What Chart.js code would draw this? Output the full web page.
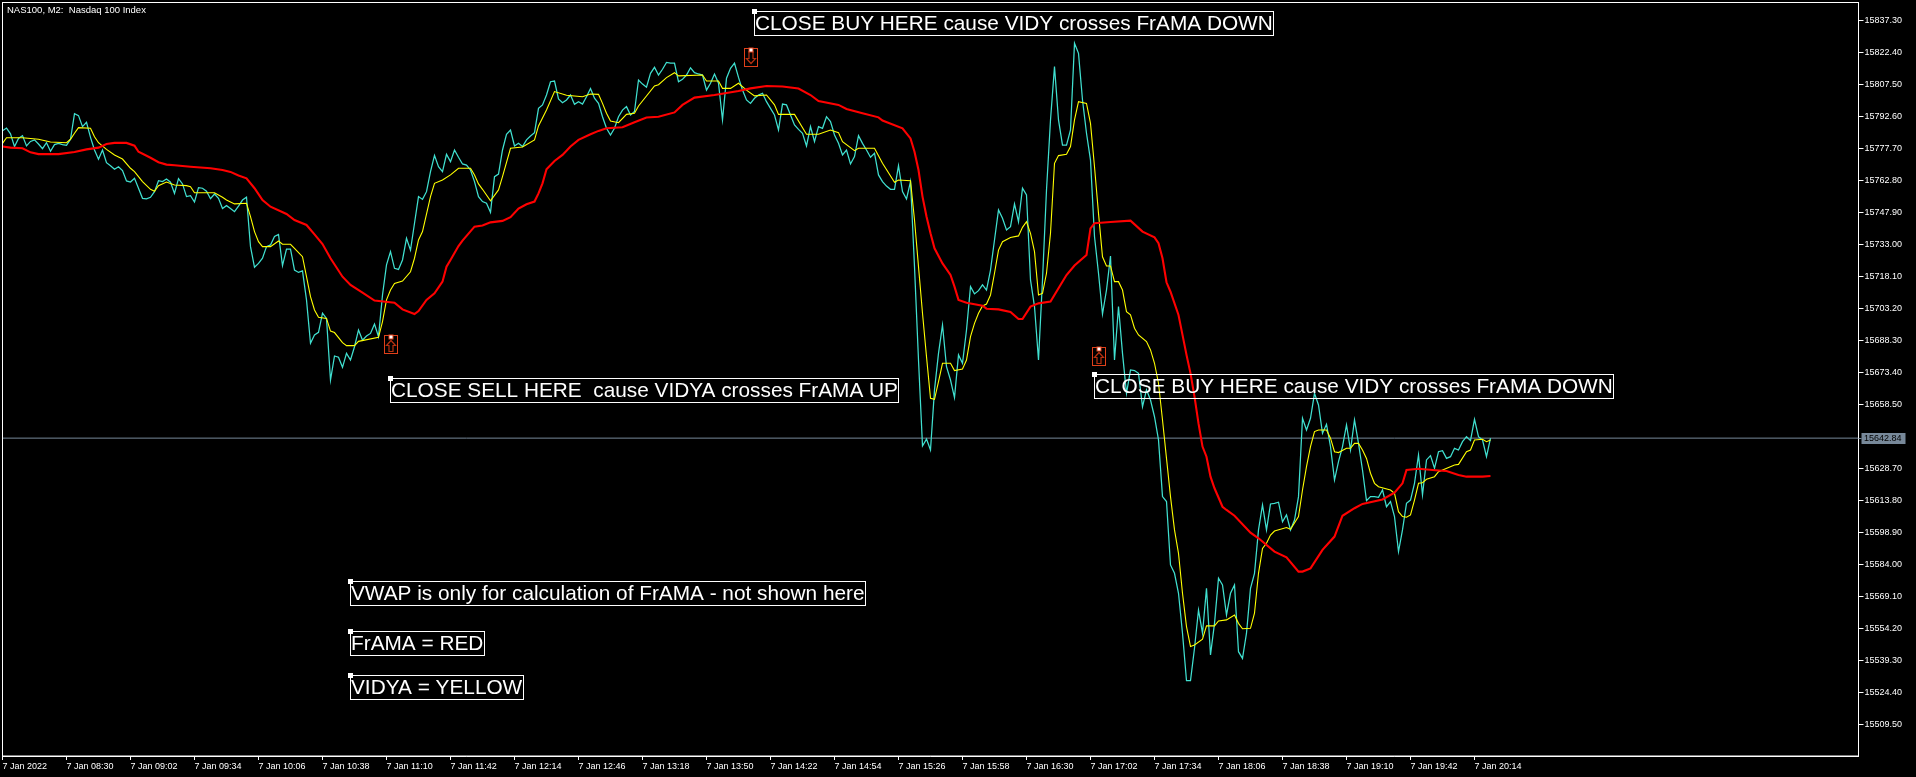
<!DOCTYPE html>
<html><head><meta charset="utf-8">
<style>html,body{margin:0;padding:0;background:#000;overflow:hidden}canvas{display:block}</style>
<script src="https://cdn.jsdelivr.net/npm/chart.js@4"></script>
</head><body><canvas id="c" width="1916" height="777"></canvas>
<script>
const chartTitle = 'NAS100, M2:  Nasdaq 100 Index';
const timeLabels = ['7 Jan 2022','7 Jan 08:30','7 Jan 09:02','7 Jan 09:34','7 Jan 10:06','7 Jan 10:38','7 Jan 11:10','7 Jan 11:42','7 Jan 12:14','7 Jan 12:46','7 Jan 13:18','7 Jan 13:50','7 Jan 14:22','7 Jan 14:54','7 Jan 15:26','7 Jan 15:58','7 Jan 16:30','7 Jan 17:02','7 Jan 17:34','7 Jan 18:06','7 Jan 18:38','7 Jan 19:10','7 Jan 19:42','7 Jan 20:14'];
const timeTickBars = [0,16,32,48,64,80,96,112,128,144,160,176,192,208,224,240,256,272,288,304,320,336,352,368];
const priceTicks = [15837.30,15822.40,15807.50,15792.60,15777.70,15762.80,15747.90,15733.00,15718.10,15703.20,15688.30,15673.40,15658.50,15628.70,15613.80,15598.90,15584.00,15569.10,15554.20,15539.30,15524.40,15509.50];
const lastPrice = 15642.84;

const closeValues = [
15786.0,15787.2,15784.5,15778.6,15782.4,15783.7,15778.9,15781.0,15781.7,15779.8,15777.6,15780.4,15776.4,15779.5,15780.1,15779.5,15779.2,15782.0,15793.9,15793.0,
15787.9,15789.9,15782.9,15777.0,15772.7,15777.0,15771.1,15769.7,15768.0,15769.2,15767.4,15762.6,15762.1,15763.8,15759.2,15754.5,15754.3,15755.0,15757.6,15762.7,
15762.3,15763.5,15762.0,15756.8,15763.7,15761.2,15755.3,15755.7,15752.8,15759.5,15759.2,15757.8,15754.3,15756.5,15754.5,15749.8,15751.1,15749.8,15748.3,15750.9,
15753.7,15755.0,15732.0,15722.4,15724.2,15726.6,15732.0,15732.8,15736.7,15737.7,15723.2,15730.8,15730.8,15721.1,15720.0,15720.7,15707.2,15687.0,15690.9,15692.1,
15701.0,15698.6,15669.9,15681.1,15680.5,15675.8,15682.3,15679.2,15685.4,15693.2,15688.5,15690.4,15691.6,15696.0,15690.1,15709.5,15723.5,15729.7,15721.9,15721.4,
15725.8,15735.9,15730.4,15742.9,15755.3,15754.0,15757.6,15766.9,15774.5,15769.2,15766.9,15775.0,15771.6,15777.0,15773.6,15770.5,15770.0,15767.7,15762.3,15755.3,
15753.0,15752.2,15748.0,15764.6,15765.8,15777.0,15784.3,15786.3,15778.9,15780.1,15778.6,15781.7,15783.5,15785.1,15796.4,15798.0,15802.6,15808.8,15809.1,15800.8,
15799.0,15800.3,15802.6,15798.3,15799.5,15798.4,15801.8,15805.6,15801.1,15798.7,15792.5,15787.1,15784.0,15787.1,15792.5,15795.6,15797.2,15793.3,15794.9,15809.6,
15807.7,15806.2,15812.7,15815.5,15811.9,15814.6,15817.8,15817.4,15817.4,15808.8,15809.9,15811.9,15815.3,15813.0,15812.4,15811.9,15804.9,15808.1,15812.4,15808.1,
15791.0,15810.4,15815.0,15817.4,15810.8,15804.9,15800.3,15798.7,15801.1,15802.6,15803.4,15799.5,15796.4,15793.3,15786.3,15798.4,15798.0,15793.3,15788.7,15786.6,
15784.8,15778.9,15787.9,15780.9,15787.9,15787.1,15792.5,15790.2,15784.0,15780.1,15774.7,15777.0,15770.5,15773.9,15783.7,15780.1,15777.0,15773.6,15775.5,15765.4,
15762.3,15760.2,15758.7,15758.7,15769.7,15757.6,15754.2,15762.3,15722.7,15679.2,15639.2,15642.4,15637.3,15665.3,15682.3,15695.5,15676.1,15669.9,15661.7,15681.6,
15677.7,15693.2,15713.4,15710.0,15711.5,15714.2,15711.8,15721.1,15735.1,15749.1,15745.2,15739.8,15741.3,15751.9,15743.6,15759.2,15756.1,15716.5,15704.1,15679.2,
15716.5,15758.4,15791.0,15815.8,15791.0,15779.3,15779.3,15786.3,15826.7,15822.0,15800.3,15784.8,15772.3,15736.7,15719.6,15700.6,15711.8,15727.6,15679.2,15704.1,
15682.3,15663.7,15674.6,15674.3,15673.0,15657.5,15665.3,15660.6,15652.8,15642.0,15615.6,15613.3,15583.8,15579.9,15570.6,15552.0,15529.9,15529.9,15545.0,15562.8,
15552.0,15572.9,15541.9,15556.6,15577.6,15574.5,15560.5,15570.6,15574.5,15543.4,15540.3,15552.0,15572.9,15579.9,15600.1,15611.7,15600.1,15612.2,15612.5,15613.0,
15603.9,15607.1,15600.1,15604.7,15615.6,15652.1,15646.6,15652.1,15663.7,15658.3,15645.1,15649.3,15638.9,15623.3,15631.9,15638.9,15649.0,15637.3,15651.3,15640.4,
15628.0,15613.7,15615.6,15615.6,15615.3,15618.7,15610.9,15613.3,15606.3,15590.0,15600.1,15612.5,15614.0,15621.8,15635.0,15616.4,15632.7,15634.7,15628.8,15636.5,
15637.0,15633.4,15634.2,15638.1,15637.3,15641.2,15643.5,15641.7,15651.6,15643.5,15642.0,15634.2,15642.8];

const vidyaBars = [0,1,5,9,12,16,17,18,19,22,23,24,26,28,30,32,33,35,37,38,39,41,43,46,47,48,53,55,56,58,61,62,63,64,65,67,69,70,72,73,75,76,77,78,79,81,82,83,85,86,88,89,94,95,96,97,98,100,102,103,104,105,107,108,110,112,114,117,118,119,
120,122,124,125,127,130,133,134,136,138,141,145,147,149,150,151,152,154,156,158,159,163,164,166,168,169,175,176,179,180,182,184,186,188,191,193,194,198,201,204,207,209,210,213,214,218,220,223,224,227,
228,229,230,231,232,233,234,235,237,238,240,241,242,243,244,245,246,247,248,249,250,252,254,255,256,257,258,259,260,261,262,263,264,266,267,268,269,271,272,273,274,275,276,277,278,279,280,281,282,283,284,286,287,288,289,290,
291,292,293,294,295,296,297,298,300,301,303,304,306,308,309,310,312,313,314,315,316,317,318,321,322,324,325,326,327,328,329,331,332,333,334,336,337,338,339,340,341,342,343,344,347,348,349,350,351,352,353,354,355,356,358,359,363,364,366,367,368,370,371,372];
const vidyaValues = [15780.1,15782.7,15782.7,15782.0,15780.7,15780.4,15782.0,15784.8,15787.4,15787.1,15783.2,15780.4,15777.3,15774.7,15772.8,15768.5,15766.9,15762.3,15758.7,15757.8,15760.4,15762.1,15760.7,15760.4,15759.9,15757.1,15757.1,15755.0,15753.7,15751.9,15752.2,15746.0,15739.0,15734.3,15732.0,15732.0,15734.6,15733.1,15733.1,15731.2,15727.3,15718.0,15708.7,15702.5,15699.1,15698.6,15692.7,15692.0,15687.3,15685.9,15685.9,15687.9,15689.8,15697.1,15707.2,15711.8,15714.9,15716.0,15720.3,15726.6,15735.1,15739.0,15755.3,15761.5,15763.0,15765.4,15768.5,15768.5,15765.4,15761.2,
15758.7,15753.3,15758.4,15764.6,15777.8,15778.4,15781.7,15788.2,15795.6,15804.2,15802.5,15801.8,15803.1,15802.9,15798.7,15794.1,15790.5,15789.7,15793.6,15794.1,15797.5,15806.8,15807.4,15810.7,15813.0,15811.5,15811.9,15809.1,15809.1,15805.7,15805.7,15808.1,15804.9,15802.2,15802.6,15798.0,15793.6,15793.6,15784.3,15784.3,15786.3,15785.1,15780.9,15776.7,15777.8,15777.8,15770.8,15762.0,15763.0,15762.7,
15744.4,15722.7,15701.0,15680.8,15661.4,15660.9,15669.1,15677.7,15677.7,15674.3,15675.0,15679.2,15690.1,15696.3,15701.0,15704.4,15705.3,15709.5,15719.6,15730.4,15734.3,15736.3,15737.0,15741.0,15743.6,15738.2,15729.7,15709.5,15710.3,15719.6,15738.2,15770.8,15774.4,15775.0,15778.6,15791.0,15799.5,15798.7,15789.4,15769.2,15747.5,15727.3,15723.0,15723.0,15715.7,15715.7,15711.8,15701.7,15700.2,15694.0,15690.9,15687.8,15683.9,15677.7,15668.4,15651.3,
15633.4,15615.6,15600.1,15589.2,15570.6,15555.1,15545.8,15546.5,15549.2,15555.4,15555.4,15557.7,15558.2,15560.5,15556.6,15554.1,15554.3,15561.3,15579.9,15591.5,15593.9,15597.7,15599.6,15601.2,15600.4,15606.3,15618.7,15629.6,15638.9,15645.9,15646.6,15646.6,15642.8,15636.5,15636.1,15638.1,15638.1,15640.4,15640.4,15637.3,15633.4,15626.5,15621.8,15620.2,15618.7,15617.1,15608.6,15606.3,15606.0,15607.1,15614.0,15621.8,15622.1,15623.7,15624.9,15627.2,15630.3,15630.6,15636.5,15637.3,15642.0,15642.3,15641.2,15642.0];

const framaBars = [0,2,5,7,9,14,18,21,24,26,28,31,33,34,37,39,41,43,47,52,55,57,59,61,63,65,67,71,73,76,78,80,82,85,87,90,93,98,100,103,104,106,108,110,111,112,114,115,118,
120,122,125,127,129,131,133,134,135,136,138,140,142,144,147,149,151,155,158,161,164,168,170,173,178,184,187,191,195,199,202,204,209,211,215,219,220,225,227,228,229,230,231,232,233,235,237,238,
239,241,245,246,249,252,254,255,257,259,262,264,266,268,271,272,273,277,282,285,288,289,290,291,292,294,295,296,297,298,299,
300,301,302,303,305,306,308,312,314,318,321,324,325,327,330,333,335,338,340,345,348,350,351,354,359,361,364,366,370,372];
const framaValues = [15778.6,15778.1,15777.8,15775.9,15775.1,15775.1,15776.1,15777.3,15778.1,15779.8,15780.3,15780.3,15779.0,15776.2,15773.4,15771.3,15770.2,15769.9,15769.2,15768.5,15767.7,15766.8,15765.1,15763.8,15759.2,15753.7,15750.6,15747.2,15744.4,15742.1,15737.7,15733.2,15726.6,15718.0,15714.2,15710.6,15706.9,15705.9,15702.8,15700.6,15702.0,15707.2,15710.3,15715.7,15722.7,15725.8,15732.3,15734.8,15741.3,
15741.8,15743.3,15744.0,15745.7,15749.7,15751.7,15753.0,15756.8,15761.5,15768.0,15771.9,15774.7,15778.6,15781.7,15784.3,15785.9,15787.1,15787.6,15789.9,15792.1,15792.5,15794.5,15798.0,15801.4,15802.6,15804.5,15805.7,15806.8,15806.6,15805.6,15802.6,15799.8,15798.0,15796.1,15794.1,15792.2,15790.7,15787.1,15782.4,15776.2,15767.7,15755.3,15746.0,15738.2,15731.2,15724.2,15718.8,15713.4,
15707.2,15705.9,15704.5,15703.1,15702.8,15701.6,15698.3,15698.3,15704.1,15705.6,15706.4,15712.6,15718.8,15723.2,15728.1,15740.5,15742.9,15743.5,15744.1,15739.0,15736.3,15733.6,15726.6,15715.4,15711.0,15700.2,15690.9,15681.6,15673.0,15662.2,15649.7,
15638.9,15634.2,15624.9,15619.5,15610.9,15609.4,15606.7,15598.8,15596.2,15590.0,15587.3,15580.7,15580.7,15582.2,15590.8,15597.0,15606.7,15610.2,15612.2,15614.3,15617.4,15621.8,15628.0,15628.6,15627.8,15627.5,15625.7,15624.9,15624.9,15625.2];

const noteTexts = ['CLOSE BUY HERE cause VIDY crosses FrAMA DOWN','CLOSE SELL HERE  cause VIDYA crosses FrAMA UP','CLOSE BUY HERE cause VIDY crosses FrAMA DOWN','VWAP is only for calculation of FrAMA - not shown here','FrAMA = RED','VIDYA = YELLOW'];
const noteBars = [188,97,273,87,87,87];
const notePrices = [15841.5,15670.6,15672.5,15576.1,15552.8,15532.3];
const arrowBars = [97,187,274];
const arrowPrices = [15689.9,15823.4,15684.2];
const arrowDirections = ['up','down','up'];

const WHITE = '#ffffff', SLATE = '#778899', CYAN = '#40E0D0', YELLOW = '#FFFF00', RED = '#FF0000', MARK = '#E0401A';
const TICK_FONT = { family: 'Liberation Sans', size: 9 };

const pairs = (xs, ys) => xs.map((x, i) => ({ x, y: ys[i] }));

const overlay = {
  id: 'overlay',
  afterDraw(chart) {
    const { ctx, chartArea: a, scales: { x, y } } = chart;
    ctx.save();
    ctx.strokeStyle = WHITE; ctx.lineWidth = 1;
    ctx.strokeRect(a.left, a.top, a.right - a.left, a.bottom - a.top);

    ctx.fillStyle = WHITE; ctx.textBaseline = 'middle'; ctx.textAlign = 'left';
    ctx.font = '9.5px "Liberation Sans"';
    ctx.fillText(chartTitle, 7, 10);

    const py = Math.round(y.getPixelForValue(lastPrice) - 0.5);
    ctx.fillStyle = SLATE; ctx.fillRect(a.right + 3, py - 5, 44, 11);
    ctx.fillStyle = '#000'; ctx.font = '9px "Liberation Sans"';
    ctx.fillText(lastPrice.toFixed(2), a.right + 5.5, py + 0.5);
    ctx.strokeStyle = SLATE; ctx.beginPath(); ctx.moveTo(a.right, py + .5); ctx.lineTo(a.right + 3, py + .5); ctx.stroke();

    arrowBars.forEach((bar, i) => {
      const cx = Math.round(x.getPixelForValue(bar)) + .5, hy = Math.round(y.getPixelForValue(arrowPrices[i])) + .5;
      const up = arrowDirections[i] === 'up';
      ctx.strokeStyle = MARK; ctx.lineWidth = 1;
      ctx.strokeRect(cx - 7, hy - 2, 13, 18);
      ctx.strokeStyle = '#B8300F'; ctx.lineWidth = 1.2;
      ctx.beginPath();
      if (up) {
        ctx.moveTo(cx - .5, hy + 3); ctx.lineTo(cx + 4, hy + 8); ctx.lineTo(cx + 1.5, hy + 8); ctx.lineTo(cx + 1.5, hy + 14);
        ctx.lineTo(cx - 2.5, hy + 14); ctx.lineTo(cx - 2.5, hy + 8); ctx.lineTo(cx - 5, hy + 8);
      } else {
        ctx.moveTo(cx - 2.5, hy + 1); ctx.lineTo(cx + 1.5, hy + 1); ctx.lineTo(cx + 1.5, hy + 8); ctx.lineTo(cx + 4, hy + 8);
        ctx.lineTo(cx - .5, hy + 13); ctx.lineTo(cx - 5, hy + 8); ctx.lineTo(cx - 2.5, hy + 8);
      }
      ctx.closePath(); ctx.stroke();
      ctx.fillStyle = MARK; ctx.fillRect(cx - 3, hy - 3, 5, 5);
      ctx.fillStyle = WHITE; ctx.fillRect(cx - 2, hy - 2, 3, 3);
    });

    ctx.font = '20.8px "Liberation Sans"';
    noteTexts.forEach((t, i) => {
      const bx = Math.floor(x.getPixelForValue(noteBars[i])) + .5, by = Math.floor(y.getPixelForValue(notePrices[i])) + .5;
      const w = Math.round(ctx.measureText(t).width + 1.5);
      ctx.strokeStyle = WHITE; ctx.lineWidth = 1;
      ctx.strokeRect(bx, by, w, 24);
      ctx.fillStyle = WHITE;
      ctx.fillRect(bx - 2.5, by - 2.5, 5, 5);
      ctx.textBaseline = 'alphabetic';
      ctx.fillText(t, bx + 0.5, by + 18.5);
    });
    ctx.restore();
  }
};

new Chart(document.getElementById('c'), {
  type: 'line',
  data: { datasets: [
    { label: 'Bid', data: pairs([0, 464], [lastPrice, lastPrice]), borderColor: SLATE, borderWidth: 1, pointRadius: 0, order: 4 },
    { label: 'Close', data: closeValues.map((v, i) => ({ x: i, y: v })), borderColor: CYAN, borderWidth: 1.25, pointRadius: 0, order: 3 },
    { label: 'VIDYA', data: pairs(vidyaBars, vidyaValues), borderColor: YELLOW, borderWidth: 1.1, pointRadius: 0, order: 2 },
    { label: 'FrAMA', data: pairs(framaBars, framaValues), borderColor: RED, borderWidth: 2.1, pointRadius: 0, order: 1 }
  ] },
  options: {
    responsive: false, animation: false, parsing: true,
    layout: { padding: { left: 2.5, top: 2.5, right: 0, bottom: 0 } },
    plugins: { legend: { display: false }, tooltip: { enabled: false }, title: { display: false } },
    scales: {
      x: {
        type: 'linear', min: 0, max: 464,
        afterBuildTicks: s => { s.ticks = timeTickBars.map(value => ({ value })); },
        afterFit: s => { s.height = 21; s.paddingLeft = s.paddingRight = s.paddingTop = s.paddingBottom = 0; },
        border: { color: WHITE },
        grid: { drawOnChartArea: false, color: WHITE, tickLength: 4 },
        ticks: { autoSkip: false, maxRotation: 0, minRotation: 0, align: 'start', color: WHITE, font: TICK_FONT, padding: 1,
          callback: (v) => timeLabels[timeTickBars.indexOf(v)] }
      },
      y: {
        type: 'linear', position: 'right', min: 15494.83, max: 15845.68,
        afterBuildTicks: s => { s.ticks = priceTicks.map(value => ({ value })); },
        afterFit: s => { s.width = 57.5; s.paddingLeft = s.paddingRight = s.paddingTop = s.paddingBottom = 0; },
        border: { color: WHITE },
        grid: { drawOnChartArea: false, color: WHITE, tickLength: 5 },
        ticks: { autoSkip: false, color: WHITE, font: TICK_FONT, padding: 1, callback: v => v.toFixed(2) }
      }
    }
  },
  plugins: [overlay]
});
</script></body></html>
